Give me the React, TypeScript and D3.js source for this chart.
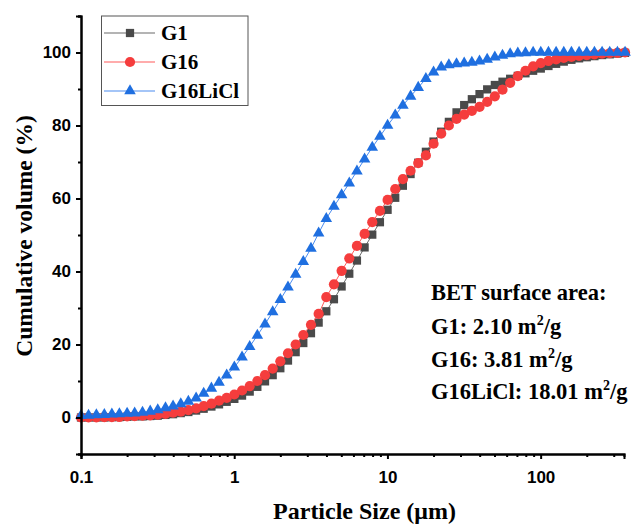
import React, { useEffect, useRef } from "react";
import * as d3 from "d3";

// particle size bins (um)
const sizes = [
  0.1, 0.112, 0.126, 0.142, 0.159, 0.178, 0.2, 0.224, 0.252, 0.283, 0.317, 0.356,
  0.399, 0.448, 0.502, 0.564, 0.632, 0.71, 0.796, 0.893, 1.002, 1.125, 1.262, 1.416,
  1.589, 1.783, 2.0, 2.244, 2.518, 2.825, 3.17, 3.557, 3.991, 4.477, 5.024, 5.637,
  6.325, 7.096, 7.962, 8.934, 10.024, 11.247, 12.619, 14.159, 15.887, 17.825, 20.0, 22.44,
  25.179, 28.251, 31.698, 35.566, 39.905, 44.774, 50.238, 56.368, 63.246, 70.963, 79.621, 89.337,
  100.237, 112.468, 126.191, 141.589, 158.866, 178.25, 200.0, 224.404, 251.785, 282.508, 316.979, 355.656,
];

const g1 = [
  0.0, 0.0, 0.0, 0.0, 0.1, 0.1, 0.2, 0.3, 0.3, 0.4, 0.5, 0.7,
  0.9, 1.2, 1.5, 1.9, 2.4, 3.0, 3.6, 4.3, 5.1, 6.0, 7.1, 8.4,
  9.9, 11.6, 13.5, 15.6, 17.9, 20.4, 23.1, 26.0, 29.1, 32.4, 35.9, 39.4,
  43.0, 46.6, 50.1, 53.5, 56.9, 60.2, 63.5, 66.7, 69.8, 72.8, 75.6, 78.3,
  81.0, 83.6, 85.6, 87.2, 88.6, 89.9, 91.1, 92.0, 92.8, 93.6, 94.3, 95.0,
  95.6, 96.3, 96.9, 97.5, 98.0, 98.4, 98.7, 99.0, 99.3, 99.5, 99.7, 99.9,
];

const g16 = [
  0.0, 0.0, 0.0, 0.1, 0.1, 0.2, 0.3, 0.4, 0.5, 0.6, 0.8, 1.0,
  1.3, 1.6, 2.0, 2.5, 3.1, 3.8, 4.6, 5.4, 6.3, 7.4, 8.6, 10.0,
  11.6, 13.4, 15.4, 17.6, 20.0, 22.6, 25.4, 28.4, 33.0, 36.5, 40.2, 43.6,
  47.0, 50.3, 53.5, 56.6, 59.6, 62.6, 65.3, 67.6, 69.7, 71.8, 75.0, 77.8,
  80.0, 81.8, 83.0, 84.0, 85.1, 86.5, 88.0, 89.8, 91.7, 93.5, 95.0, 96.2,
  97.1, 97.7, 98.1, 98.5, 98.8, 99.1, 99.3, 99.5, 99.7, 99.8, 99.9, 100.0,
];

const g16licl = [
  0.5, 0.6, 0.7, 0.8, 0.9, 1.0, 1.1, 1.2, 1.4, 1.7, 2.1, 2.6,
  3.1, 3.7, 4.4, 5.3, 6.6, 8.0, 9.6, 11.6, 13.8, 16.5, 19.4, 22.5,
  25.6, 28.9, 32.3, 35.7, 39.2, 42.7, 46.3, 50.5, 54.5, 57.8, 61.0, 64.2,
  67.5, 70.8, 74.0, 77.0, 80.0, 82.8, 85.5, 88.0, 90.4, 92.8, 94.6, 96.0,
  96.6, 96.9, 97.1, 97.3, 97.6, 98.1, 98.7, 99.2, 99.6, 99.8, 99.9, 100.0,
  100.0, 100.0, 100.0, 100.0, 100.0, 100.0, 100.0, 100.0, 100.0, 100.0, 100.0, 100.0,
];

const seriesNames = ["G1", "G16", "G16LiCl"];
const xTicks = [0.1, 1, 10, 100];
const yTicks = [0, 20, 40, 60, 80, 100];
const betLines = [
  { label: "G1: 2.10 m", unit: "/g" },
  { label: "G16: 3.81 m", unit: "/g" },
  { label: "G16LiCl: 18.01 m", unit: "/g" },
];

const W = 633, H = 524;
const left = 81, right = 624, top = 16, bottom = 454;
const serif = "'Times New Roman', 'Liberation Serif', serif";
const sans = "Arial, 'Liberation Sans', sans-serif";

export default function App() {
  const ref = useRef<SVGSVGElement>(null);

  useEffect(() => {
    const svg = d3.select(ref.current);
    svg.selectAll("*").remove();

    const x = d3.scaleLog().domain([0.1, 350]).range([left, right]);
    const y = d3.scaleLinear().domain([-10, 110]).range([bottom, top]);

    const styles = [
      { data: g1, color: "#4a4a4a", line: "#6a6a6a", sym: d3.symbolSquare, size: 68 },
      { data: g16, color: "#f53d3d", line: "#ff5a5a", sym: d3.symbolCircle, size: 82 },
      { data: g16licl, color: "#1f6fe0", line: "#4a8cf0", sym: d3.symbolTriangle, size: 58 },
    ];

    const plot = svg.append("g");
    const line = d3.line<number>().x((d, i) => x(sizes[i])).y(d => y(d));

    styles.forEach(s => {
      plot.append("path").attr("d", line(s.data)).attr("fill", "none")
        .attr("stroke", s.line).attr("stroke-width", 1);
      plot.selectAll(null).data(s.data).join("path")
        .attr("transform", (d, i) => `translate(${x(sizes[i])},${y(d)})`)
        .attr("d", d3.symbol().type(s.sym).size(s.size)())
        .attr("fill", s.color);
    });

    // x axis
    const minorX: number[] = [];
    [0.1, 1, 10, 100].forEach(dec => {
      for (let k = 2; k <= 9; k++) if (dec * k <= 350) minorX.push(dec * k);
    });
    const xa = svg.append("g").attr("transform", `translate(0,${bottom})`);
    xa.call(d3.axisBottom(x).tickValues(minorX).tickSize(3).tickFormat(() => ""));
    const xb = svg.append("g").attr("transform", `translate(0,${bottom})`);
    xb.call(d3.axisBottom(x).tickValues(xTicks).tickSize(5).tickPadding(12)
      .tickFormat(d => String(d)));

    // y axis
    const ya = svg.append("g").attr("transform", `translate(${left},0)`);
    ya.call(d3.axisLeft(y).tickValues([-10, 10, 30, 50, 70, 90, 110]).tickSize(3).tickFormat(() => ""));
    const yb = svg.append("g").attr("transform", `translate(${left},0)`);
    yb.call(d3.axisLeft(y).tickValues(yTicks).tickSize(5).tickPadding(5).tickFormat(d => String(d)));

    svg.selectAll(".domain").attr("stroke", "#000").attr("stroke-width", 2);
    svg.selectAll(".tick line").attr("stroke", "#000").attr("stroke-width", 2);
    svg.selectAll(".tick text").attr("font-family", sans).attr("font-weight", "bold")
      .attr("font-size", 17).attr("fill", "#000");

    // axis titles
    svg.append("text").attr("x", (left + right) / 2 + 12).attr("y", 519)
      .attr("text-anchor", "middle").attr("font-family", serif).attr("font-weight", "bold")
      .attr("font-size", 24).text("Particle Size (\u03bcm)");
    svg.append("text").attr("transform", `translate(32,236) rotate(-90)`)
      .attr("text-anchor", "middle").attr("font-family", serif).attr("font-weight", "bold")
      .attr("font-size", 23.5).text("Cumulative volume (%)");

    // legend
    const lg = svg.append("g");
    lg.append("rect").attr("x", 101.5).attr("y", 16).attr("width", 146.5).attr("height", 89.5)
      .attr("fill", "#fff").attr("stroke", "#555").attr("stroke-width", 1);
    styles.forEach((s, i) => {
      const cy = 33 + i * 29;
      lg.append("line").attr("x1", 104).attr("x2", 155).attr("y1", cy).attr("y2", cy)
        .attr("stroke", s.line).attr("stroke-width", 1.2);
      lg.append("path").attr("transform", `translate(130,${cy})`)
        .attr("d", d3.symbol().type(s.sym).size(s.size)()).attr("fill", s.color);
      lg.append("text").attr("x", 161).attr("y", cy + 7).attr("font-family", serif)
        .attr("font-weight", "bold").attr("font-size", 21).text(seriesNames[i]);
    });

    // BET annotation
    const ann = svg.append("text").attr("font-family", serif).attr("font-weight", "bold")
      .attr("font-size", 22.5).attr("fill", "#000");
    ann.append("tspan").attr("x", 431).attr("y", 300).text("BET surface area:");
    betLines.forEach((b, i) => {
      const yy = 334 + i * 32.5;
      ann.append("tspan").attr("x", 431).attr("y", yy).text(b.label);
      ann.append("tspan").attr("dy", -9).attr("font-size", 14).text("2");
      ann.append("tspan").attr("dy", 9).text(b.unit);
    });
  }, []);

  return (
    <svg ref={ref} width={W} height={H}
      style={{ position: "absolute", left: 0, top: 0, background: "#fff" }} />
  );
}
